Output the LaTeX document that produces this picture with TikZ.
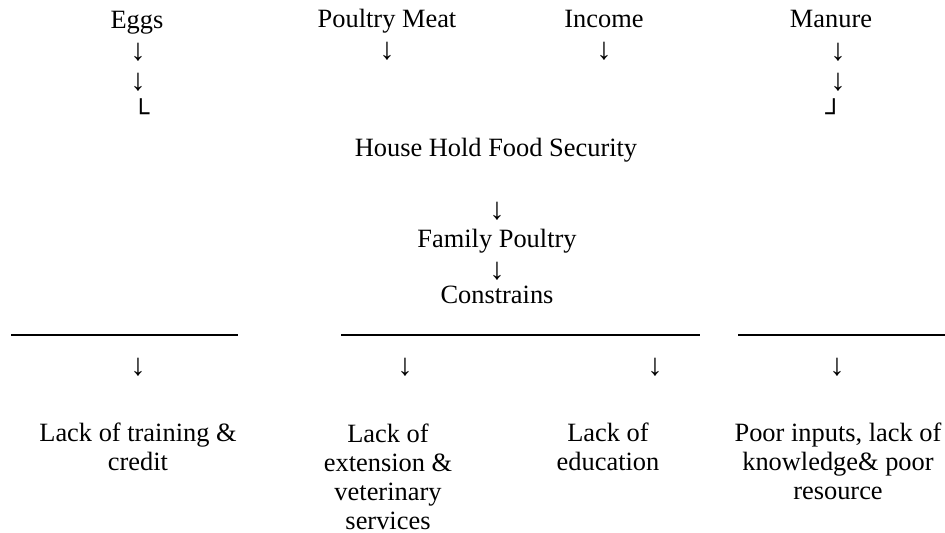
\documentclass[tikz,border=0pt]{standalone}
\usepackage{fontspec}
\setmainfont{Liberation Serif}
\newfontfamily\boxfont{Liberation Mono}

\tikzset{
	lbl/.style={inner sep=0pt, font=\fontsize{12}{13.2}\selectfont, align=center},
	dn/.style={inner sep=0pt, font=\fontsize{14}{14}\selectfont},
	crn/.style={inner sep=0pt, font=\boxfont\bfseries\fontsize{13}{14.1}\selectfont},
	bar/.style={line width=0.9pt},
}

\begin{document}
\begin{tikzpicture}[x=0.4545pt, y=-0.4545pt]
	\useasboundingbox (0,0) rectangle (945,533);

	%what the flock gives
	\node[lbl, anchor=base] (eggs) at (137,29) {Eggs};
	\node[lbl, anchor=base] (meat) at (387,28) {Poultry Meat};
	\node[lbl, anchor=base] (income) at (604,28) {Income};
	\node[lbl, anchor=base] (manure) at (831,28) {Manure};

	\node[dn] (eggsa) at (138,52) {↓};
	\node[dn] (eggsb) at (138,82) {↓};
	\node[crn] (eggsc) at (141,111) {└};
	\node[dn] (meata) at (387,51) {↓};
	\node[dn] (incomea) at (604,51) {↓};
	\node[dn] (manurea) at (838,52) {↓};
	\node[dn] (manureb) at (838,82) {↓};
	\node[crn] (manurec) at (834,111) {┘};

	%middle column
	\node[lbl, anchor=base] (hhfs) at (496,157) {House Hold Food Security};
	\node[dn] (hhfsa) at (497,211) {↓};
	\node[lbl, anchor=base] (family) at (497,248) {Family Poultry};
	\node[dn] (familya) at (497,271) {↓};
	\node[lbl, anchor=base] (constr) at (497,304) {Constrains};

	%split lines under constrains
	\draw[bar] (11,335) -- (238,335);
	\draw[bar] (341,335) -- (700,335);
	\draw[bar] (738,335) -- (945,335);

	\node[dn] (traininga) at (138,367) {↓};
	\node[dn] (extensiona) at (405,367) {↓};
	\node[dn] (educationa) at (655,367) {↓};
	\node[dn] (inputsa) at (837,367) {↓};

	%the constraints (anchored at the last line)
	\node[lbl, anchor=base] (training) at (138,471) {Lack of training \&\\credit};
	\node[lbl, anchor=base] (extension) at (388,530) {Lack of\\extension \&\\veterinary\\services};
	\node[lbl, anchor=base] (education) at (608,471) {Lack of\\education};
	\node[lbl, anchor=base] (inputs) at (838,500) {Poor inputs, lack of\\knowledge\& poor\\resource};

\end{tikzpicture}
\end{document}
